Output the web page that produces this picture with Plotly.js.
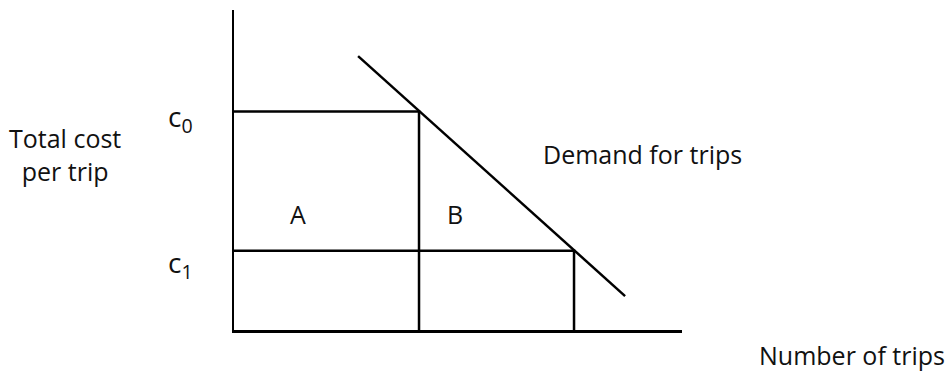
<!DOCTYPE html>
<html><head><meta charset="utf-8">
<script src="https://cdn.plot.ly/plotly-3.0.1.min.js"></script>
<style>html,body{margin:0;padding:0;background:#fff}#chart{width:948px;height:372px}</style>
</head><body><div id="chart"></div>
<script>
// Quantities (number of trips) and costs
const quantities = [4.13, 7.59];      // Q0, Q1
const costs = [6.83, 2.48];           // c0, c1
const demandX = [2.77, 8.73];
const demandY = [8.56, 1.06];
const costLabels = ['c<sub>0</sub>', 'c<sub>1</sub>'];
const areaLabels = ['A', 'B'];
const yTitle = 'Total cost<br>per trip';
const xTitle = 'Number of trips';
const demandLabel = 'Demand for trips';

const lineStyle = {color: '#000', width: 2.5};
const traces = [
  {x: [0, quantities[0], quantities[0]], y: [costs[0], costs[0], 0]},
  {x: [0, quantities[1], quantities[1]], y: [costs[1], costs[1], 0]},
  {x: demandX, y: demandY}
].map(t => Object.assign(t, {type: 'scatter', mode: 'lines', line: lineStyle, hoverinfo: 'skip', showlegend: false}));

const font = {family: 'Open Sans, sans-serif', size: 25, color: '#111'};
const cFont = {family: 'Open Sans, sans-serif', size: 28, color: '#111'};
const X_RANGE = 10, Y_RANGE = 10;
// annotations placed in paper coordinates (converted from axis units) so they may sit outside the axes
const ann = (x, y, text, f) => ({x: x / X_RANGE, y: y / Y_RANGE, xref: 'paper', yref: 'paper',
  xanchor: 'center', yanchor: 'middle', text, showarrow: false, font: f || font});
const annotations = [
  ann(-3.77, 5.47, yTitle),
  ann(-1.2, 6.62, costLabels[0], cFont),
  ann(-1.2, 2.06, costLabels[1], cFont),
  ann(1.43, 3.625, areaLabels[0]),
  ann(4.93, 3.625, areaLabels[1]),
  ann(9.11, 5.5, demandLabel),
  ann(13.79, -0.78, xTitle)
];

const axisCommon = {showline: true, linecolor: '#000', linewidth: 2.5, showgrid: false, zeroline: false, showticklabels: false, ticks: '', fixedrange: true};
const layout = {
  width: 948, height: 372,
  margin: {l: 234, r: 266, t: 10, b: 42},
  paper_bgcolor: '#fff', plot_bgcolor: '#fff',
  xaxis: Object.assign({range: [0, X_RANGE]}, axisCommon),
  yaxis: Object.assign({range: [0, Y_RANGE]}, axisCommon),
  annotations, showlegend: false
};
Plotly.newPlot('chart', traces, layout, {displayModeBar: false, staticPlot: true});
</script></body></html>
